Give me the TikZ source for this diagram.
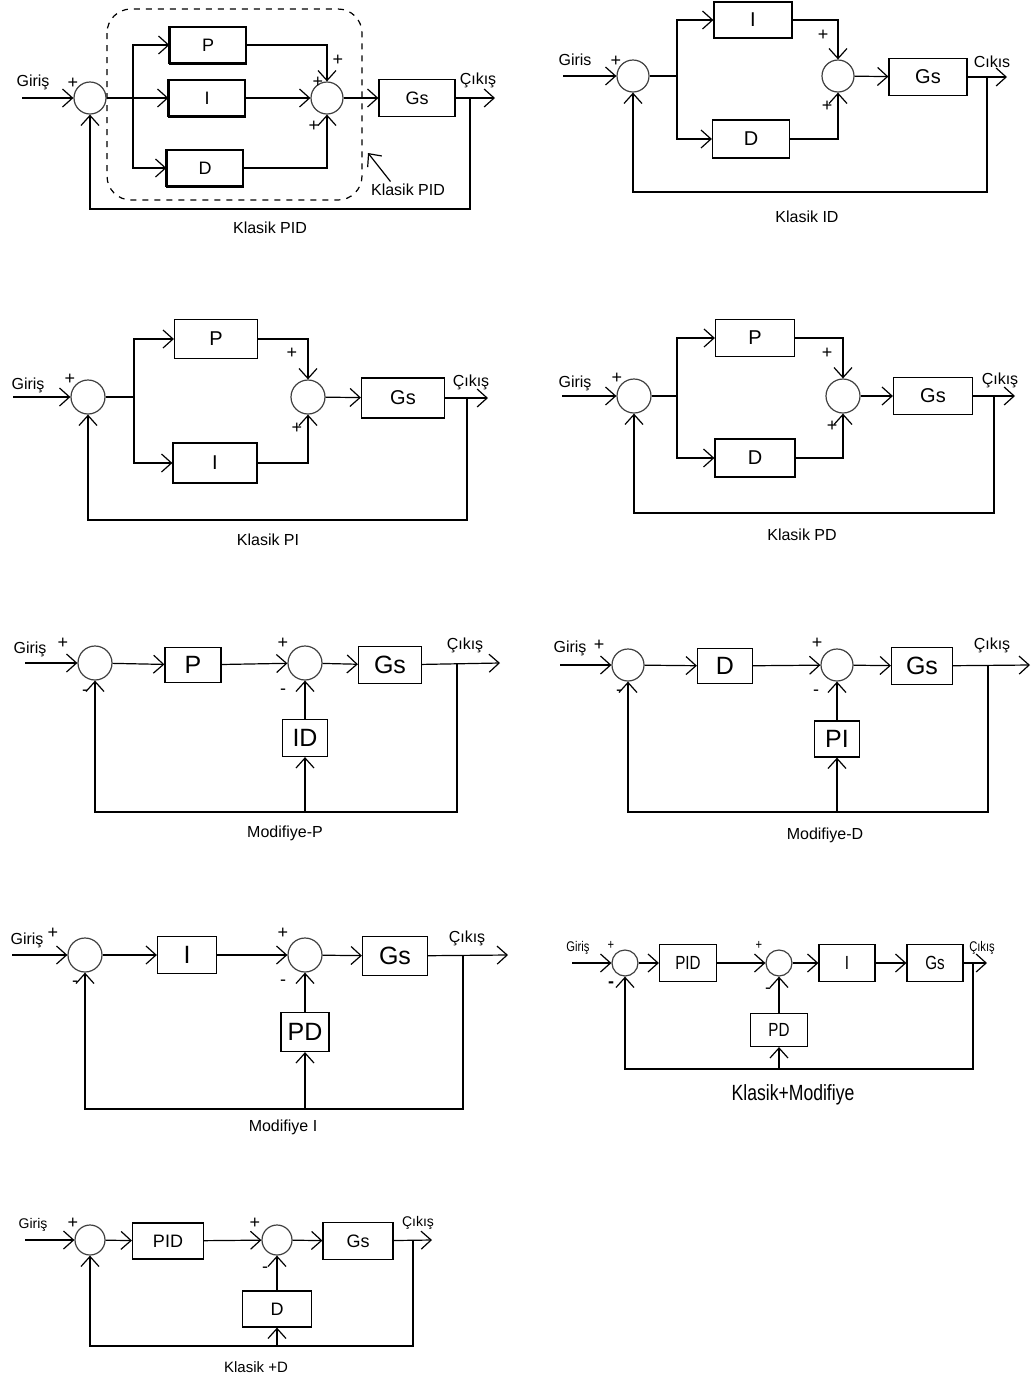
\documentclass[tikz,border=0pt]{standalone}
\usepackage{fontspec}
\setmainfont{Liberation Sans}
\newfontfamily\dar[FakeStretch=0.8]{Liberation Sans}
\usetikzlibrary{arrows.meta}

\tikzset{
  >={Straight Barb[length=5pt,width=9pt]},
  blok/.style={draw, inner sep=0pt, font=\fontsize{9}{10}\selectfont},
  orta/.style={font=\fontsize{10}{11}\selectfont},
  buyuk/.style={font=\fontsize{12.5}{14}\selectfont},
  dar/.style={font=\dar\fontsize{9.5}{10}\selectfont},
  toplam/.style={draw=black!75, circle, inner sep=0pt, minimum size=16pt},
  etiket/.style={inner sep=0pt, font=\fontsize{8}{9}\selectfont},
  isaret/.style={inner sep=0pt, font=\fontsize{9}{10}\selectfont},
  ufak/.style={inner sep=0pt, font=\dar\fontsize{7}{8}\selectfont},
  golge/.style={append after command={
    (\tikzlastnode.north west) edge[line width=1.3pt] (\tikzlastnode.south west)
    (\tikzlastnode.south west) edge[line width=1.3pt] (\tikzlastnode.south east)}}
}

\begin{document}
\begin{tikzpicture}[x=0.5pt, y=-0.5pt, line width=0.6pt]
  \useasboundingbox (0,0) rectangle (1032,1377);

  % Klasik PID
  \draw[dashed, rounded corners=12pt] (107,9) rectangle (362,200);
  \coordinate (agir) at (22,98);
  \node[etiket] (agirl) at (33,82) {Giriş};
  \node[toplam] (at1) at (90,98) {};
  \node[isaret] (ap1) at (73,83) {+};
  \coordinate (ac) at (133,98);
  \node[blok, golge, minimum width=38pt, minimum height=18pt] (ap) at (208,45) {P};
  \node[blok, golge, minimum width=38pt, minimum height=18pt] (ai) at (207,98) {I};
  \node[blok, golge, minimum width=38pt, minimum height=18pt] (ad) at (205,168) {D};
  \node[toplam] (at2) at (327,98) {};
  \node[isaret] (ap2) at (338,60) {+};
  \node[isaret] (ap3) at (318,82) {+};
  \node[isaret] (ap4) at (314,126) {+};
  \node[blok, minimum width=38pt, minimum height=18.5pt] (ags) at (417,98) {Gs};
  \coordinate (acik) at (495,98);
  \node[etiket] (acikl) at (478,80) {Çıkış};
  \coordinate (adal) at (470,98);
  \coordinate (ageri) at (470,209);
  \draw[->] (agir) -- (at1);
  \draw (at1) -- (ac);
  \draw[->] (ac) |- (ap);
  \draw[->] (ac) -- (ai);
  \draw[->] (ac) |- (ad);
  \draw[->] (ap) -| (at2);
  \draw[->] (ai) -- (at2);
  \draw[->] (ad) -| (at2);
  \draw[->] (at2) -- (ags);
  \draw[->] (ags) -- (acik);
  \draw[->] (adal) -- (ageri) -| (at1);
  \coordinate (aok) at (368,153);
  \node[etiket] (aokl) at (408,190) {Klasik PID};
  \draw[->] ([xshift=10pt,yshift=1pt]aokl.north west) -- (aok);
  \node[etiket] (abas) at (270,228) {Klasik PID};

  % Klasik ID
  \coordinate (bgir) at (563,76);
  \node[etiket] (bgirl) at (575,60) {Giris};
  \node[toplam] (bt1) at (633,76) {};
  \node[isaret] (bp1) at (616,61) {+};
  \coordinate (bc) at (677,76);
  \node[blok, orta, minimum width=39pt, minimum height=18pt] (bi) at (753,20) {I};
  \node[blok, orta, minimum width=38.5pt, minimum height=19pt] (bd) at (751,139) {D};
  \node[toplam] (bt2) at (838,76) {};
  \node[isaret] (bp2) at (823,35) {+};
  \node[isaret] (bp3) at (827,106) {+};
  \node[blok, orta, minimum width=39pt, minimum height=18.5pt] (bgs) at (928,77) {Gs};
  \coordinate (bcik) at (1007,77);
  \node[etiket] (bcikl) at (992,62) {Cıkıs};
  \coordinate (bdal) at (987,77);
  \coordinate (bgeri) at (987,192);
  \draw[->] (bgir) -- (bt1);
  \draw (bt1) -- (bc);
  \draw[->] (bc) |- (bi);
  \draw[->] (bc) |- (bd);
  \draw[->] (bi) -| (bt2);
  \draw[->] (bd) -| (bt2);
  \draw[->] (bt2) -- (bgs);
  \draw[->] (bgs) -- (bcik);
  \draw[->] (bdal) -- (bgeri) -| (bt1);
  \node[etiket] (bbas) at (807,217) {Klasik ID};

  % Klasik PI
  \coordinate (cgir) at (13,397);
  \node[etiket] (cgirl) at (28,385) {Giriş};
  \node[toplam, minimum size=17pt] (ct1) at (88,397) {};
  \node[isaret] (cp1) at (70,379) {+};
  \coordinate (cc) at (134,397);
  \node[blok, orta, minimum width=41.5pt, minimum height=19.5pt] (cp) at (216,339) {P};
  \node[blok, orta, minimum width=42pt, minimum height=20pt] (ci) at (215,463) {I};
  \node[toplam, minimum size=17pt] (ct2) at (308,397) {};
  \node[isaret] (cp2) at (292,353) {+};
  \node[isaret] (cp3) at (297,428) {+};
  \node[blok, orta, minimum width=41.5pt, minimum height=20pt] (cgs) at (403,398) {Gs};
  \coordinate (ccik) at (488,398);
  \node[etiket] (ccikl) at (471,382) {Çıkış};
  \coordinate (cdal) at (467,398);
  \coordinate (cgeri) at (467,520);
  \draw[->] (cgir) -- (ct1);
  \draw (ct1) -- (cc);
  \draw[->] (cc) |- (cp);
  \draw[->] (cc) |- (ci);
  \draw[->] (cp) -| (ct2);
  \draw[->] (ci) -| (ct2);
  \draw[->] (ct2) -- (cgs);
  \draw[->] (cgs) -- (ccik);
  \draw[->] (cdal) -- (cgeri) -| (ct1);
  \node[etiket] (cbas) at (268,540) {Klasik PI};

  % Klasik PD
  \coordinate (dgir) at (562,396);
  \node[etiket] (dgirl) at (575,383) {Giriş};
  \node[toplam, minimum size=17pt] (dt1) at (634,396) {};
  \node[isaret] (dp1) at (617,378) {+};
  \coordinate (dc) at (677,396);
  \node[blok, orta, minimum width=39.5pt, minimum height=18.5pt] (dp) at (755,338) {P};
  \node[blok, orta, minimum width=40pt, minimum height=19pt] (dd) at (755,458) {D};
  \node[toplam, minimum size=17pt] (dt2) at (843,396) {};
  \node[isaret] (dp2) at (827,353) {+};
  \node[isaret] (dp3) at (832,426) {+};
  \node[blok, orta, minimum width=39.5pt, minimum height=18.5pt] (dgs) at (933,396) {Gs};
  \coordinate (dcik) at (1015,396);
  \node[etiket] (dcikl) at (1000,380) {Çıkış};
  \coordinate (ddal) at (994,396);
  \coordinate (dgeri) at (994,513);
  \draw[->] (dgir) -- (dt1);
  \draw (dt1) -- (dc);
  \draw[->] (dc) |- (dp);
  \draw[->] (dc) |- (dd);
  \draw[->] (dp) -| (dt2);
  \draw[->] (dd) -| (dt2);
  \draw[->] (dt2) -- (dgs);
  \draw[->] (dgs) -- (dcik);
  \draw[->] (ddal) -- (dgeri) -| (dt1);
  \node[etiket] (dbas) at (802,535) {Klasik PD};

  % Modifiye-P
  \coordinate (egir) at (25,663);
  \node[etiket] (egirl) at (30,649) {Giriş};
  \node[toplam, minimum size=17pt] (et1) at (95,663) {};
  \node[isaret] (ep1) at (63,643) {+};
  \node[isaret] (em1) at (85,693) {-};
  \node[blok, buyuk, minimum width=28pt, minimum height=17.5pt] (ep) at (193,665) {P};
  \node[toplam, minimum size=17pt] (et2) at (305,663) {};
  \node[isaret] (ep2) at (283,643) {+};
  \node[isaret] (em2) at (283,692) {-};
  \node[blok, buyuk, minimum width=31.5pt, minimum height=18.5pt] (egs) at (390,665) {Gs};
  \node[blok, buyuk, minimum width=22.5pt, minimum height=18.5pt] (eid) at (305,738) {ID};
  \coordinate (ecik) at (500,663);
  \node[etiket] (ecikl) at (465,645) {Çıkış};
  \coordinate (edal) at (457,663);
  \coordinate (egeri) at (457,812);
  \coordinate (eayr) at (305,812);
  \draw[->] (egir) -- (et1);
  \draw[->] (et1) -- (ep);
  \draw[->] (ep) -- (et2);
  \draw[->] (et2) -- (egs);
  \draw[->] (egs) -- (ecik);
  \draw[->] (edal) -- (egeri) -| (et1);
  \draw[->] (eayr) -- (eid);
  \draw[->] (eid) -- (et2);
  \node[etiket] (ebas) at (285,833) {Modifiye-P};

  % Modifiye-D
  \coordinate (fgir) at (560,665);
  \node[etiket] (fgirl) at (570,648) {Giriş};
  \node[toplam] (ft1) at (628,665) {};
  \node[isaret] (fp1) at (599,645) {+};
  \node[isaret] (fm1) at (619,693) {-};
  \node[blok, buyuk, minimum width=27.5pt, minimum height=17.5pt] (fd) at (725,666) {D};
  \node[toplam] (ft2) at (837,665) {};
  \node[isaret] (fp2) at (817,643) {+};
  \node[isaret] (fm2) at (816,693) {-};
  \node[blok, buyuk, minimum width=30.5pt, minimum height=18.5pt] (fgs) at (922,666) {Gs};
  \node[blok, buyuk, minimum width=22.5pt, minimum height=18pt] (fpi) at (837,739) {PI};
  \coordinate (fcik) at (1030,665);
  \node[etiket] (fcikl) at (992,645) {Çıkış};
  \coordinate (fdal) at (988,665);
  \coordinate (fgeri) at (988,812);
  \coordinate (fayr) at (837,812);
  \draw[->] (fgir) -- (ft1);
  \draw[->] (ft1) -- (fd);
  \draw[->] (fd) -- (ft2);
  \draw[->] (ft2) -- (fgs);
  \draw[->] (fgs) -- (fcik);
  \draw[->] (fdal) -- (fgeri) -| (ft1);
  \draw[->] (fayr) -- (fpi);
  \draw[->] (fpi) -- (ft2);
  \node[etiket] (fbas) at (825,835) {Modifiye-D};

  % Modifiye I
  \coordinate (ggir) at (12,955);
  \node[etiket] (ggirl) at (27,940) {Giriş};
  \node[toplam, minimum size=17pt] (gt1) at (85,955) {};
  \node[isaret] (gp1) at (53,933) {+};
  \node[isaret] (gm1) at (75,984) {-};
  \node[blok, buyuk, minimum width=29.5pt, minimum height=18.5pt] (gi) at (187,955) {I};
  \node[toplam, minimum size=17pt] (gt2) at (305,955) {};
  \node[isaret] (gp2) at (283,933) {+};
  \node[isaret] (gm2) at (283,983) {-};
  \node[blok, buyuk, minimum width=32.5pt, minimum height=19.5pt] (ggs) at (395,956) {Gs};
  \node[blok, buyuk, minimum width=24pt, minimum height=19.5pt] (gpd) at (305,1032) {PD};
  \coordinate (gcik) at (508,955);
  \node[etiket] (gcikl) at (467,938) {Çıkış};
  \coordinate (gdal) at (463,955);
  \coordinate (ggeri) at (463,1109);
  \coordinate (gayr) at (305,1109);
  \draw[->] (ggir) -- (gt1);
  \draw[->] (gt1) -- (gi);
  \draw[->] (gi) -- (gt2);
  \draw[->] (gt2) -- (ggs);
  \draw[->] (ggs) -- (gcik);
  \draw[->] (gdal) -- (ggeri) -| (gt1);
  \draw[->] (gayr) -- (gpd);
  \draw[->] (gpd) -- (gt2);
  \node[etiket] (gbas) at (283,1127) {Modifiye I};

  % Klasik+Modifiye
  \coordinate (hgir) at (572,963);
  \node[ufak] (hgirl) at (578,948) {Giriş};
  \node[toplam, minimum size=13pt] (ht1) at (625,963) {};
  \node[ufak] (hp1) at (611,945) {+};
  \node[isaret] (hm1) at (611,985) {\textbf{-}};
  \node[blok, dar, minimum width=28.5pt, minimum height=18.5pt] (hpid) at (688,963) {PID};
  \node[toplam, minimum size=13pt] (ht2) at (779,963) {};
  \node[ufak] (hp2) at (759,945) {+};
  \node[isaret] (hm2) at (768,991) {-};
  \node[blok, dar, minimum width=28pt, minimum height=18.5pt] (hi) at (847,963) {I};
  \node[blok, dar, minimum width=28pt, minimum height=18.5pt] (hgs) at (935,963) {Gs};
  \node[blok, dar, minimum width=28.5pt, minimum height=16.5pt] (hpd) at (779,1030) {PD};
  \coordinate (hcik) at (987,963);
  \node[ufak] (hcikl) at (982,948) {Çıkış};
  \coordinate (hdal) at (973,963);
  \coordinate (hgeri) at (973,1069);
  \coordinate (hayr) at (779,1069);
  \draw[->] (hgir) -- (ht1);
  \draw[->] (ht1) -- (hpid);
  \draw[->] (hpid) -- (ht2);
  \draw[->] (ht2) -- (hi);
  \draw[->] (hi) -- (hgs);
  \draw[->] (hgs) -- (hcik);
  \draw[->] (hdal) -- (hgeri) -| (ht1);
  \draw[->] (hayr) -- (hpd);
  \draw[->] (hpd) -- (ht2);
  \node[inner sep=0pt, font=\dar\fontsize{11}{12}\selectfont] (hbas) at (793,1095) {Klasik+Modifiye};

  % Klasik +D
  \coordinate (kgir) at (25,1240);
  \node[etiket, font=\fontsize{7}{8}\selectfont] (kgirl) at (33,1225) {Giriş};
  \node[toplam, minimum size=15pt] (kt1) at (90,1240) {};
  \node[isaret] (kp1) at (73,1223) {+};
  \node[blok, minimum width=35.5pt, minimum height=18pt] (kpid) at (168,1241) {PID};
  \node[toplam, minimum size=15pt] (kt2) at (277,1240) {};
  \node[isaret] (kp2) at (255,1223) {+};
  \node[isaret] (km2) at (265,1270) {-};
  \node[blok, minimum width=35pt, minimum height=18.5pt] (kgs) at (358,1241) {Gs};
  \node[blok, minimum width=34.5pt, minimum height=18pt] (kd) at (277,1309) {D};
  \coordinate (kcik) at (432,1240);
  \node[etiket, font=\fontsize{7}{8}\selectfont] (kcikl) at (418,1223) {Çıkış};
  \coordinate (kdal) at (413,1240);
  \coordinate (kgeri) at (413,1346);
  \coordinate (kayr) at (277,1346);
  \draw[->] (kgir) -- (kt1);
  \draw[->] (kt1) -- (kpid);
  \draw[->] (kpid) -- (kt2);
  \draw[->] (kt2) -- (kgs);
  \draw[->] (kgs) -- (kcik);
  \draw[->] (kdal) -- (kgeri) -| (kt1);
  \draw[->] (kayr) -- (kd);
  \draw[->] (kd) -- (kt2);
  \node[inner sep=0pt, font=\fontsize{7.5}{8}\selectfont] (kbas) at (256,1367) {Klasik +D};
\end{tikzpicture}
\end{document}
